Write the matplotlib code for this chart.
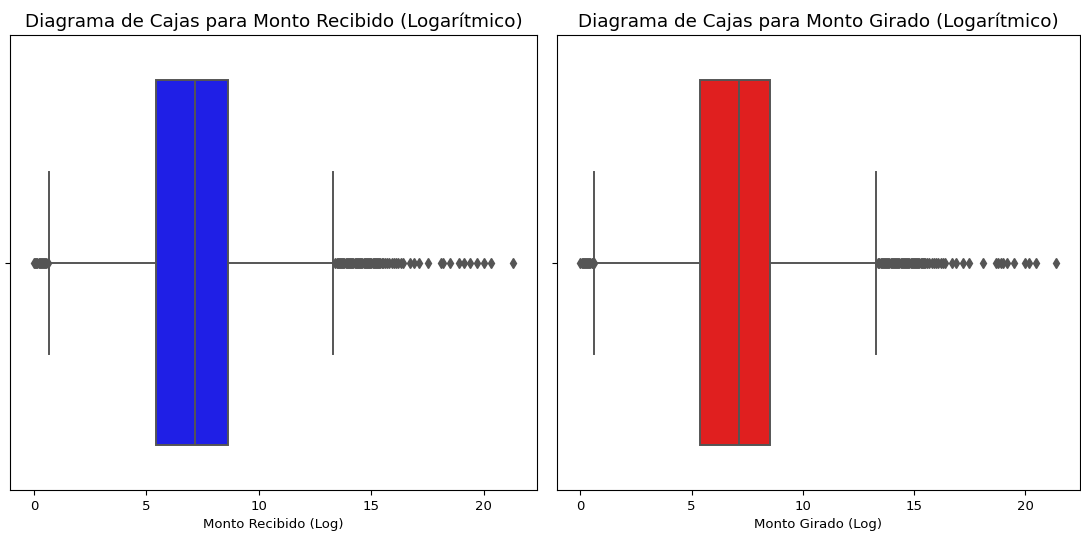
import matplotlib
matplotlib.use("Agg")
import matplotlib.pyplot as plt

# box statistics (log scale values)
recibido_stats = dict(q1=5.44, med=7.17, q3=8.63, whislo=0.66, whishi=13.3)
girado_stats = dict(q1=5.36, med=7.14, q3=8.52, whislo=0.63, whishi=13.3)

recibido_low = [0.0, 0.05, 0.1, 0.15, 0.2, 0.25, 0.3, 0.35, 0.4, 0.45, 0.5, 0.55, 0.6]
recibido_high = [13.4, 13.45, 13.5, 13.55, 13.6, 13.65, 13.7, 13.75, 13.8, 13.85,
                 13.9, 13.95, 14.0, 14.05, 14.1, 14.15, 14.2, 14.25, 14.3, 14.35,
                 14.4, 14.45, 14.5, 14.55, 14.6, 14.65, 14.7, 14.75, 14.8, 14.85,
                 14.9, 14.95, 15.0, 15.05, 15.1, 15.15, 15.2, 15.25, 15.3, 15.35,
                 15.4, 15.45, 15.5, 15.6, 15.7, 15.8, 15.9, 16.0, 16.1, 16.2, 16.3,
                 16.4, 16.7, 16.9, 17.1, 17.5, 18.1, 18.2, 18.5, 18.9, 19.1, 19.4,
                 19.7, 20.0, 20.3, 21.3]
girado_low = [0.0, 0.05, 0.1, 0.15, 0.2, 0.25, 0.3, 0.35, 0.4, 0.45, 0.5, 0.55, 0.6]
girado_high = [13.4, 13.45, 13.5, 13.55, 13.6, 13.65, 13.7, 13.75, 13.8, 13.85,
               13.9, 13.95, 14.0, 14.05, 14.1, 14.15, 14.2, 14.25, 14.3, 14.35,
               14.4, 14.45, 14.5, 14.55, 14.6, 14.65, 14.7, 14.75, 14.8, 14.85,
               14.9, 14.95, 15.0, 15.05, 15.1, 15.15, 15.2, 15.25, 15.3, 15.35,
               15.4, 15.45, 15.5, 15.6, 15.7, 15.8, 15.9, 16.0, 16.1, 16.2, 16.3,
               16.4, 16.7, 16.9, 17.2, 17.5, 18.1, 18.7, 18.8, 18.9, 19.0, 19.2,
               19.5, 20.0, 20.2, 20.5, 21.4]

panels = [
    ("Diagrama de Cajas para Monto Recibido (Logarítmico)", "Monto Recibido (Log)",
     recibido_stats, recibido_low + recibido_high, "#1f1fe6"),
    ("Diagrama de Cajas para Monto Girado (Logarítmico)", "Monto Girado (Log)",
     girado_stats, girado_low + girado_high, "#e01f1f"),
]

fig = plt.figure(figsize=(10.81, 5.38), dpi=100)
positions = [[0.0093, 0.089, 0.4875, 0.846], [0.515, 0.089, 0.484, 0.846]]
gray = "#555555"

for pos, (title, xlabel, st, fliers, color) in zip(positions, panels):
    ax = fig.add_axes(pos)
    stats = dict(st)
    stats["fliers"] = fliers
    ax.bxp([stats], positions=[0], vert=False, widths=0.8, patch_artist=True,
           showfliers=True,
           boxprops=dict(facecolor=color, edgecolor=gray, linewidth=1.4),
           medianprops=dict(color=gray, linewidth=1.4),
           whiskerprops=dict(color=gray, linewidth=1.4),
           capprops=dict(color=gray, linewidth=1.4),
           flierprops=dict(marker="d", markerfacecolor=gray, markeredgecolor=gray,
                           markersize=5))
    ax.set_ylim(0.5, -0.5)
    ax.set_yticks([0])
    ax.set_yticklabels([""])
    ax.set_xticks([0, 5, 10, 15, 20])
    ax.margins(x=0.05)
    ax.tick_params(labelsize=9.5)
    ax.set_title(title, fontsize=13.2)
    ax.set_xlabel(xlabel, fontsize=9.5)

fig.savefig("out.png", dpi=100)
